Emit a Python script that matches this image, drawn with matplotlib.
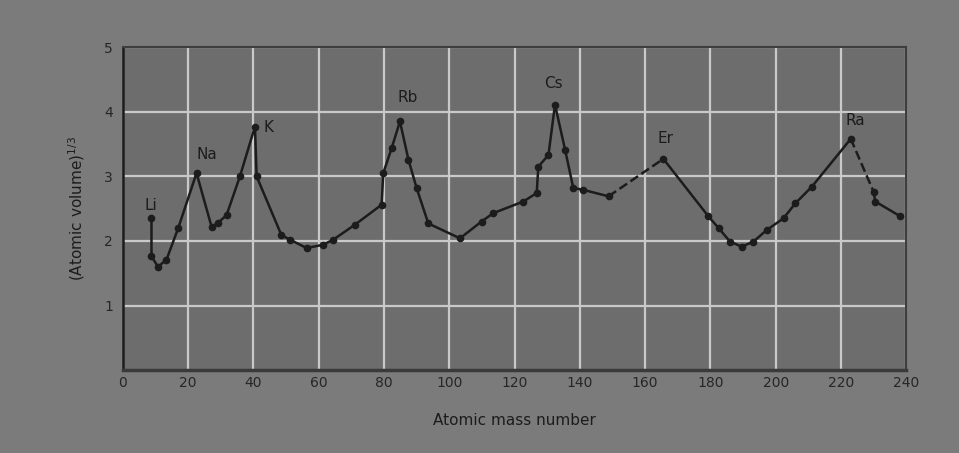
import numpy as np
import matplotlib.pyplot as plt

# values
mass = [8.8, 8.8, 10.8, 13.4, 17.0, 22.6, 27.2, 29.2, 31.8, 35.9, 40.5, 41.0,
        48.6, 51.2, 56.3, 61.4, 64.5, 71.1, 79.3, 79.8, 82.4, 84.9, 87.5, 90.0,
        93.6, 103.3, 109.9, 113.5, 122.7, 126.8, 127.3, 130.4, 132.4, 135.5,
        138.0, 141.1, 148.8]
volume = [2.35, 1.76, 1.60, 1.71, 2.20, 3.05, 2.22, 2.28, 2.40, 3.00, 3.77, 3.00,
          2.09, 2.02, 1.89, 1.94, 2.02, 2.25, 2.56, 3.05, 3.44, 3.85, 3.26, 2.82,
          2.27, 2.04, 2.30, 2.43, 2.61, 2.74, 3.15, 3.33, 4.11, 3.41,
          2.82, 2.79, 2.69]

mass2 = [165.6, 179.4, 182.5, 186.0, 189.6, 193.2, 197.3, 202.4, 206.0, 211.1, 223.0]
volume2 = [3.27, 2.38, 2.20, 1.99, 1.91, 1.99, 2.17, 2.35, 2.58, 2.84, 3.58]

mass3 = [230.0, 230.5, 238.2]
volume3 = [2.76, 2.61, 2.38]

labels = ["Li", "Na", "K", "Rb", "Cs", "Er", "Ra"]
label_x = [8.8, 22.6, 40.5, 84.9, 132.4, 165.6, 223.0]
label_y = [2.35, 3.05, 3.77, 3.85, 4.11, 3.27, 3.58]

bg = "#6d6d6d"
ink = "#1c1c1c"

fig = plt.figure(figsize=(9.59, 4.53), dpi=100, facecolor="#7b7b7b")
ax = fig.add_axes([0.128, 0.183, 0.817, 0.713])
ax.set_facecolor(bg)

ax.plot(mass, volume, "-o", color=ink, lw=1.8, ms=4.5)
ax.plot(mass2, volume2, "-o", color=ink, lw=1.8, ms=4.5)
ax.plot(mass3, volume3, "-o", color=ink, lw=1.8, ms=4.5)
# dashed joins
ax.plot([mass[-1], mass2[0]], [volume[-1], volume2[0]], "--", color=ink, lw=1.8)
ax.plot([mass2[-1], mass3[0]], [volume2[-1], volume3[0]], "--", color=ink, lw=1.8)

offsets = [(-5, 4), (0, 8), (6, -6), (-2, 12), (-7.5, 10), (-4, 9.5), (-4, 8)]
for lab, x, y, (dx, dy) in zip(labels, label_x, label_y, offsets):
    ax.annotate(lab, (x, y), xytext=(dx, dy), textcoords="offset points",
                fontsize=11, color=ink, ha="left", va="bottom")

ax.set_xlim(0, 240)
ax.set_ylim(0, 5)
ax.set_xticks(np.arange(0, 241, 20))
ax.set_yticks([1, 2, 3, 4, 5])
ax.grid(True, color="#c9c9c9", lw=1.6)
ax.set_axisbelow(True)

for s in ["top", "right"]:
    ax.spines[s].set_color("#3e3e3e")
    ax.spines[s].set_linewidth(1.5)
ax.spines["left"].set_color(ink)
ax.spines["bottom"].set_color("#3a3a3a")
ax.spines["left"].set_linewidth(1.8)
ax.spines["bottom"].set_linewidth(2.5)
ax.tick_params(colors="#262626", labelsize=10, length=0)
ax.tick_params(axis="x", pad=4)
ax.tick_params(axis="y", pad=7)

ax.set_xlabel("Atomic mass number", fontsize=11, color=ink, labelpad=17)
ax.set_ylabel(r"(Atomic volume)$^{1/3}$", fontsize=11, color=ink, labelpad=12)

fig.savefig("out.png", dpi=100, facecolor=fig.get_facecolor())
